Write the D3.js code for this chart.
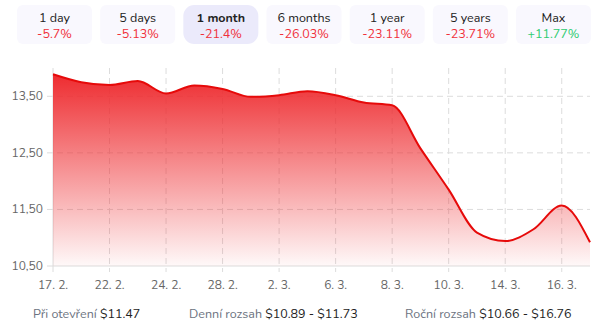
<!DOCTYPE html>
<html><head><meta charset="utf-8">
<script src="https://cdn.jsdelivr.net/npm/d3@7"></script>
<style>
body{margin:0;background:#fff;font-family:"Nunito","Lato","Open Sans",sans-serif;}
svg{display:block}
</style></head>
<body><svg id="c" width="600" height="326"></svg>
<script>
const periods = ["1 day","5 days","1 month","6 months","1 year","5 years","Max"];
const changes = ["-5.7%","-5.13%","-21.4%","-26.03%","-23.11%","-23.71%","+11.77%"];
const selectedPeriod = "1 month";
const dates = ["17. 2.","18. 2.","22. 2.","23. 2.","24. 2.","27. 2.","28. 2.","1. 3.","2. 3.","3. 3.","6. 3.","7. 3.","8. 3.","9. 3.","10. 3.","13. 3.","14. 3.","15. 3.","16. 3.","17. 3."];
const prices = [13.89,13.75,13.70,13.77,13.55,13.69,13.63,13.49,13.52,13.59,13.52,13.39,13.34,12.58,11.85,11.09,10.94,11.15,11.57,10.92];
const tickDates = ["17. 2.","22. 2.","24. 2.","28. 2.","2. 3.","6. 3.","8. 3.","10. 3.","14. 3.","16. 3."];
const yTicks = [10.5,11.5,12.5,13.5];
const footer = [["Při otevření ","$11.47"],["Denní rozsah ","$10.89 - $11.73"],["Roční rozsah ","$10.66 - $16.76"]];

const svg = d3.select("#c");
const defs = svg.append("defs");
const grad = defs.append("linearGradient").attr("id","g").attr("x1",0).attr("x2",0).attr("y1",0).attr("y2",1);
grad.append("stop").attr("offset","0%").attr("stop-color","#ee2c30").attr("stop-opacity",1);
grad.append("stop").attr("offset","100%").attr("stop-color","#ee2c30").attr("stop-opacity",0.03);

// buttons
const bx = d3.scaleBand().domain(periods).range([17,591]).paddingInner(0.098);
const btn = svg.append("g").selectAll("g").data(periods).join("g")
  .attr("transform",d=>`translate(${bx(d)},5)`);
btn.append("rect").attr("width",bx.bandwidth()).attr("height",39)
  .attr("rx",d=>d===selectedPeriod?11:6)
  .attr("fill",d=>d===selectedPeriod?"#ebeafb":"#f9f8fe");
btn.append("text").attr("x",bx.bandwidth()/2).attr("y",17).attr("text-anchor","middle")
  .attr("font-size",12.5).attr("fill","#222").attr("font-weight",d=>d===selectedPeriod?"bold":"normal").text(d=>d);
btn.append("text").attr("x",bx.bandwidth()/2).attr("y",33).attr("text-anchor","middle")
  .attr("font-size",12.5).attr("fill",(d,i)=>changes[i][0]==="+"?"#2ecc71":"#f0303a").text((d,i)=>changes[i]);

// chart
const x = d3.scalePoint().domain(dates).range([53,590]);
const y = d3.scaleLinear().domain([10.5,14.0]).range([266,68]);

const grid = svg.append("g");
grid.selectAll(".h").data(yTicks).join("line")
  .attr("x1",47).attr("x2",590).attr("y1",d=>y(d)).attr("y2",d=>y(d))
  .attr("stroke","#dcdcdc").attr("stroke-dasharray",d=>d===10.5?null:"6,4");
grid.selectAll(".v").data(tickDates).join("line")
  .attr("x1",d=>x(d)).attr("x2",d=>x(d)).attr("y1",68).attr("y2",272)
  .attr("stroke","#dcdcdc").attr("stroke-dasharray",(d,i)=>i===0?null:"6,4");

const area = d3.area().x((d,i)=>x(dates[i])).y0(y(10.5)).y1(d=>y(d)).curve(d3.curveMonotoneX);
const line = d3.line().x((d,i)=>x(dates[i])).y(d=>y(d)).curve(d3.curveMonotoneX);
svg.append("path").datum(prices).attr("d",area).attr("fill","url(#g)");
svg.append("path").datum(prices).attr("d",line).attr("fill","none").attr("stroke","#e60a0a").attr("stroke-width",2);

svg.append("g").selectAll("text").data(yTicks).join("text")
  .attr("x",43).attr("y",d=>y(d)+4).attr("text-anchor","end").attr("font-size",12).attr("fill","#666")
  .text(d=>d3.format(".2f")(d).replace(".",","));
svg.append("g").selectAll("text").data(tickDates).join("text")
  .attr("x",d=>x(d)).attr("y",289).attr("text-anchor","middle").attr("font-size",12).attr("fill","#666")
  .text(d=>d);

const fx = [33,189,405];
const ft = svg.append("g").selectAll("text").data(footer).join("text")
  .attr("x",(d,i)=>fx[i]).attr("y",318).attr("font-size",12.5);
ft.append("tspan").attr("fill","#6b7280").text(d=>d[0]);
ft.append("tspan").attr("fill","#222").text(d=>d[1]);
</script></body></html>
